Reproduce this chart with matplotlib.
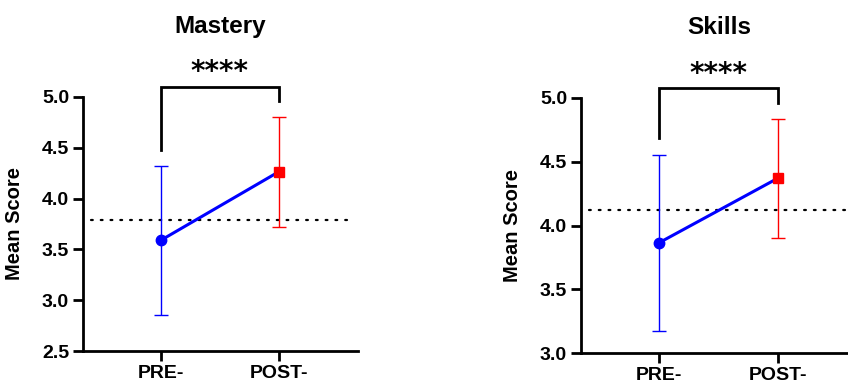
import matplotlib
matplotlib.use("Agg")
import matplotlib.pyplot as plt

plt.rcParams['font.family'] = ['Liberation Sans', 'DejaVu Sans']
plt.rcParams['font.weight'] = 'bold'

# data
groups = ["PRE-", "POST-"]
titles = ["Mastery", "Skills"]
mastery_mean = [3.59, 4.265]
mastery_sd = [0.735, 0.54]
skills_mean = [3.865, 4.37]
skills_sd = [0.69, 0.465]
ref_lines = [3.79, 4.12]
ylims = [(2.5, 5.0), (3.0, 5.0)]
yticks = [[2.5, 3.0, 3.5, 4.0, 4.5, 5.0], [3.0, 3.5, 4.0, 4.5, 5.0]]
star_text = "****"
bracket = [(5.10, 4.48, 4.96), (5.08, 4.69, 4.96)]  # top, left leg end, right leg end
star_y = [5.25, 5.19]

W, H = 848, 385
fig = plt.figure(figsize=(W / 100, H / 100), dpi=100)

boxes = [
    (83 / W, 1 - 351 / H, 275 / W, 254 / H),
    (581 / W, 1 - 353 / H, 276 / W, 255 / H),
]
means = [mastery_mean, skills_mean]
sds = [mastery_sd, skills_sd]

for k in range(2):
    ax = fig.add_axes(boxes[k])
    x = [0, 1]
    ax.plot(x, means[k], color='#0000ff', lw=2.2, zorder=3, clip_on=False)
    ax.errorbar(x[0], means[k][0], yerr=sds[k][0], fmt='o', color='#0000ff',
                ms=7.5, elinewidth=1, capsize=5, capthick=1, zorder=4, clip_on=False)
    ax.errorbar(x[1], means[k][1], yerr=sds[k][1], fmt='s', color='#ff0000',
                ms=7, elinewidth=1, capsize=5, capthick=1, zorder=4, clip_on=False)
    ax.axhline(ref_lines[k], xmin=0.03, xmax=0.98, color='black', lw=1.6,
               linestyle=(0, (0.8, 3.6)), dash_capstyle='round', zorder=2)

    ax.set_xlim(-0.66, 1.67)
    ax.set_ylim(*ylims[k])
    ax.set_yticks(yticks[k])
    ax.set_yticklabels([f"{v:.1f}" for v in yticks[k]])
    ax.set_xticks(x)
    ax.set_xticklabels(groups)
    for s in ['top', 'right']:
        ax.spines[s].set_visible(False)
    for s in ['left', 'bottom']:
        ax.spines[s].set_linewidth(2)
    ax.tick_params(width=2, length=7, labelsize=14, pad=3)
    ax.set_ylabel("Mean Score", fontsize=14.5, fontweight='bold')
    ax.yaxis.set_label_coords(-0.215, 0.5)
    ax.set_title(titles[k], fontsize=17.5, fontweight='bold', pad=46)

    top, lend, rend = bracket[k]
    ax.plot([0, 0, 1, 1], [lend, top, top, rend], color='black', lw=2,
            clip_on=False, solid_joinstyle='miter')
    ax.text(0.5, star_y[k], star_text, ha='center', va='center',
            fontsize=20, fontweight='bold', family='DejaVu Sans', clip_on=False)

fig.savefig("out.png", dpi=100)
